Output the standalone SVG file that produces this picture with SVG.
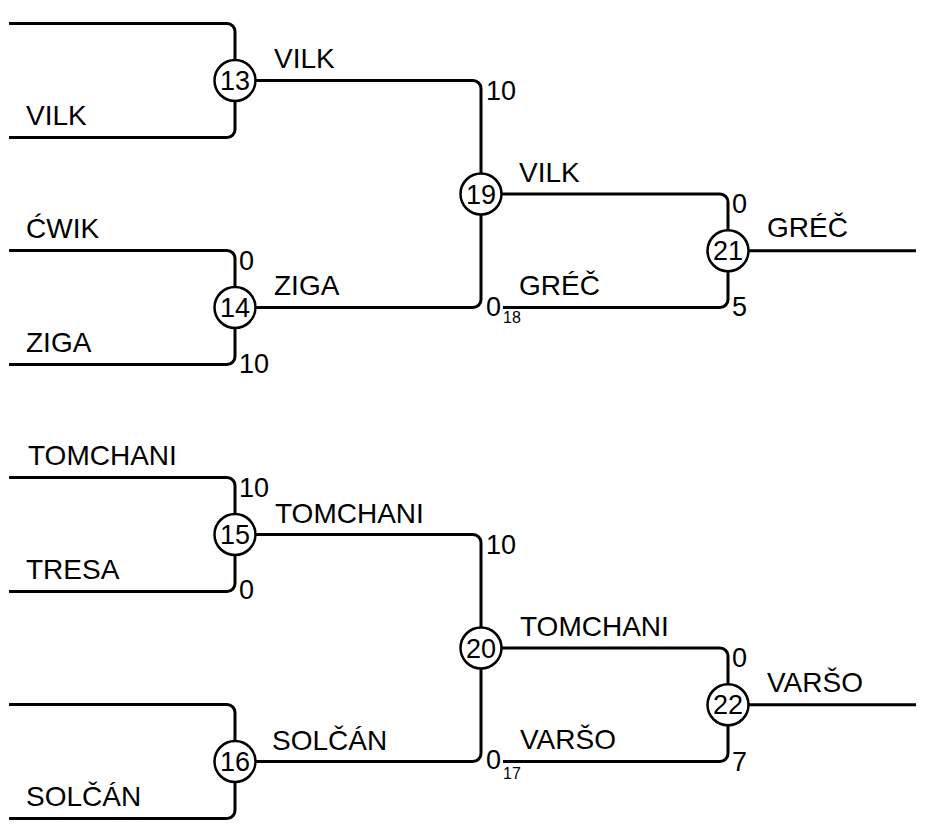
<svg xmlns="http://www.w3.org/2000/svg" width="933" height="833" viewBox="0 0 933 833">
<style>
.ln{fill:none;stroke:#000;stroke-width:3;stroke-linejoin:round}
.nd{fill:#fff;stroke:#000;stroke-width:2.5}
.t{font-family:"Liberation Sans",Arial,sans-serif;font-size:28px;fill:#000}
.c{font-family:"Liberation Sans",Arial,sans-serif;font-size:27px;fill:#000}
.n{font-family:"Liberation Sans",Arial,sans-serif;font-size:27px;fill:#000;text-anchor:middle}
.s{font-family:"Liberation Sans",Arial,sans-serif;font-size:16px;fill:#000}
</style>
<rect width="933" height="833" fill="#fff"/>
<g id="connectors">
<path class="ln" d="M9,23.5 H227 A8,8 0 0 1 235,31.5 V129.5 A8,8 0 0 1 227,137.5 H9"/>
<path class="ln" d="M9,250.5 H227 A8,8 0 0 1 235,258.5 V356.5 A8,8 0 0 1 227,364.5 H9"/>
<path class="ln" d="M9,477.5 H227 A8,8 0 0 1 235,485.5 V583.5 A8,8 0 0 1 227,591.5 H9"/>
<path class="ln" d="M9,704.5 H227 A8,8 0 0 1 235,712.5 V810.5 A8,8 0 0 1 227,818.5 H9"/>
<path class="ln" d="M235,80.5 H473 A8,8 0 0 1 481,88.5 V299.5 A8,8 0 0 1 473,307.5 H235"/>
<path class="ln" d="M235,534.5 H473 A8,8 0 0 1 481,542.5 V753.5 A8,8 0 0 1 473,761.5 H235"/>
<path class="ln" d="M481,194 H720 A8,8 0 0 1 728,202 V299.5 A8,8 0 0 1 720,307.5 H503"/>
<path class="ln" d="M481,648 H720 A8,8 0 0 1 728,656 V753.5 A8,8 0 0 1 720,761.5 H503"/>
<path class="ln" d="M728,250.75 H916"/>
<path class="ln" d="M728,704.75 H916"/>
</g>
<g id="node13"><circle class="nd" cx="235" cy="80.5" r="20.5"/><text class="n" x="235" y="90">13</text></g>
<g id="node14"><circle class="nd" cx="235" cy="307.5" r="20.5"/><text class="n" x="235" y="317">14</text></g>
<g id="node15"><circle class="nd" cx="235" cy="534.5" r="20.5"/><text class="n" x="235" y="544">15</text></g>
<g id="node16"><circle class="nd" cx="235" cy="761.5" r="20.5"/><text class="n" x="235" y="771">16</text></g>
<g id="node19"><circle class="nd" cx="481" cy="194" r="20.5"/><text class="n" x="481" y="203.5">19</text></g>
<g id="node20"><circle class="nd" cx="481" cy="648" r="20.5"/><text class="n" x="481" y="657.5">20</text></g>
<g id="node21"><circle class="nd" cx="728" cy="250.75" r="20.5"/><text class="n" x="728" y="260.25">21</text></g>
<g id="node22"><circle class="nd" cx="728" cy="704.75" r="20.5"/><text class="n" x="728" y="714.25">22</text></g>
<g id="labels">
<text class="t" x="26" y="125">VILK</text>
<text class="t" x="274" y="68">VILK</text>
<text class="c" x="486" y="100">10</text>
<text class="t" x="26" y="238">ĆWIK</text>
<text class="c" x="239" y="269.5">0</text>
<text class="t" x="26" y="352">ZIGA</text>
<text class="c" x="239" y="372.5">10</text>
<text class="t" x="274" y="294.5">ZIGA</text>
<text class="t" x="519" y="182">VILK</text>
<text class="t" x="519" y="294.5">GRÉČ</text>
<text class="c" x="486" y="315.5">0</text>
<text class="s" x="503" y="323">18</text>
<text class="c" x="732" y="212.5">0</text>
<text class="c" x="732" y="315.5">5</text>
<text class="t" x="767" y="237">GRÉČ</text>
<text class="t" x="28" y="465">TOMCHANI</text>
<text class="c" x="239" y="497">10</text>
<text class="t" x="26" y="578.5">TRESA</text>
<text class="c" x="239" y="598.5">0</text>
<text class="t" x="275" y="523">TOMCHANI</text>
<text class="c" x="486" y="553.5">10</text>
<text class="t" x="26" y="806">SOLČÁN</text>
<text class="t" x="272" y="749.5">SOLČÁN</text>
<text class="t" x="520" y="636">TOMCHANI</text>
<text class="t" x="520" y="748.5">VARŠO</text>
<text class="c" x="486" y="768.5">0</text>
<text class="s" x="503" y="778.5">17</text>
<text class="c" x="732" y="666.5">0</text>
<text class="c" x="732" y="770.5">7</text>
<text class="t" x="767" y="692">VARŠO</text>
</g>
</svg>
